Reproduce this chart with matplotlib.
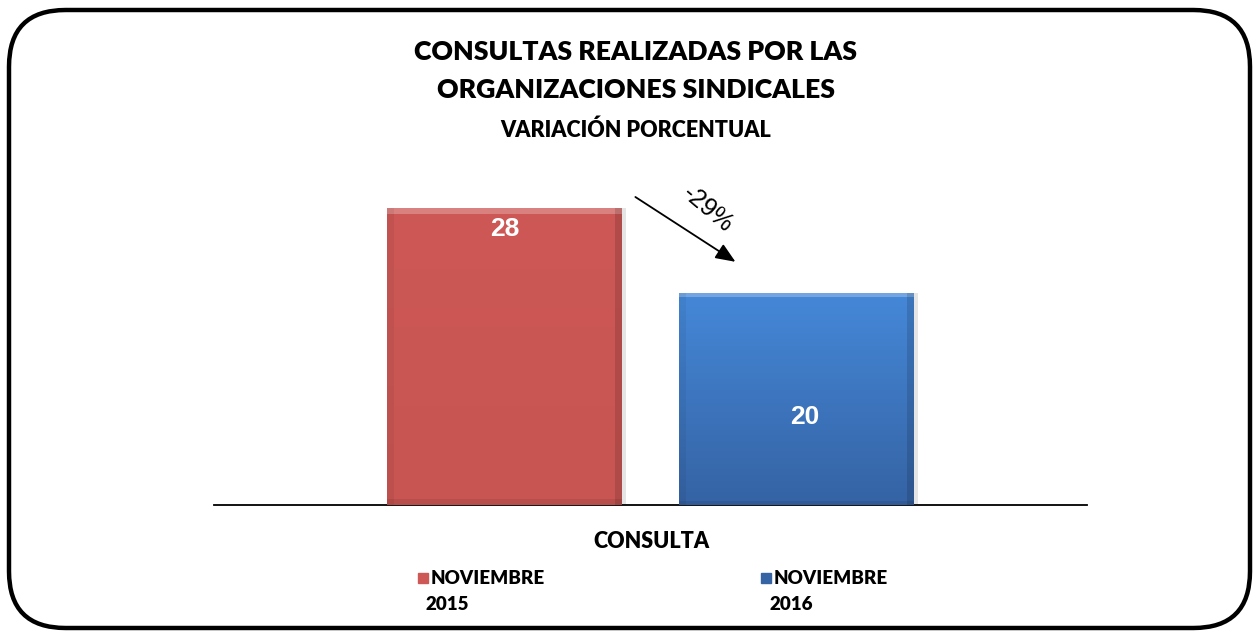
import numpy as np
import matplotlib
matplotlib.use("Agg")
import matplotlib.pyplot as plt
from matplotlib.patches import FancyBboxPatch
from matplotlib.colors import LinearSegmentedColormap

# data
series = ["NOVIEMBRE\n2015", "NOVIEMBRE\n2016"]
values = [28, 20]
category = "CONSULTA"
change_label = "-29%"
colors_top = ["#CD5856", "#4588D8"]
colors_bot = ["#C85552", "#3563A4"]

FONT = ["Lato", "DejaVu Sans"]
WEIGHT = "heavy"

fig = plt.figure(figsize=(12.58, 6.32), dpi=100)
W, H = 1258, 632


def fx(px):
    return px / W


def fy(py):
    return 1 - py / H


# rounded frame (x 9..1250, y 10..628)
frame = FancyBboxPatch((fx(9), fy(628)), fx(1241), 618 / H,
                       boxstyle="round,pad=0,rounding_size=0.045", transform=fig.transFigure,
                       fill=False, lw=3.2, ec="black", mutation_aspect=W / H)
fig.patches.append(frame)

# axes: baseline at y=505, x 214..1087
ax = fig.add_axes([fx(214), fy(505), fx(1087 - 214), (505 - 160) / H])
ymax = 345 / 10.6
xs = [-0.167, 0.167]
width = 0.269
for i, (x, v) in enumerate(zip(xs, values)):
    # soft shadow
    ax.bar(x + 0.005, v, width, bottom=0, color="#999999", alpha=0.25, zorder=1, lw=0)
    b = ax.bar(x, v, width, color=colors_top[i], zorder=2, lw=0)[0]
    cmap = LinearSegmentedColormap.from_list("g", [colors_bot[i], colors_top[i]])
    grad = np.linspace(0, 1, 100).reshape(-1, 1)
    im = ax.imshow(grad, cmap=cmap, aspect="auto", origin="lower",
                   extent=(x - width / 2, x + width / 2, 0, v), zorder=3)
    im.set_clip_path(b)
    # bevel highlights
    ax.bar(x, v * 0.02, width, bottom=v * 0.98, color="white", alpha=0.25, zorder=4, lw=0)
    ax.bar(x - width / 2 + width * 0.015, v, width * 0.03, color="black", alpha=0.05, zorder=4, lw=0)
    ax.bar(x + width / 2 - width * 0.015, v, width * 0.03, color="black", alpha=0.13, zorder=4, lw=0)
    ax.bar(x, v * 0.02, width, bottom=0, color="black", alpha=0.08, zorder=4, lw=0)

ax.set_xlim(-0.5, 0.5)
ax.set_ylim(0, ymax)
ax.text(xs[0], values[0] - 2.0, str(values[0]), color="white", fontsize=19, fontweight="bold",
        ha="center", va="center", family=["Liberation Sans"], zorder=5)
ax.text(xs[1] + 0.01, 8.3, str(values[1]), color="white", fontsize=19, fontweight="bold",
        ha="center", va="center", family=["Liberation Sans"], zorder=5)

for s in ["top", "right", "left"]:
    ax.spines[s].set_visible(False)
ax.spines["bottom"].set_linewidth(1.3)
ax.set_xticks([])
ax.set_yticks([])
ax.patch.set_alpha(0)

# arrow showing change
ax.annotate("", xy=(0.100, 22.8), xytext=(-0.02, 29.2),
            arrowprops=dict(arrowstyle="-|>,head_length=1.2,head_width=0.5", color="black", lw=1.3),
            annotation_clip=False)
ax.text(0.065, 27.9, change_label, rotation=-40, fontsize=18, ha="center", va="center",
        family=["Liberation Sans"])

# titles
fig.text(fx(636), fy(52), "CONSULTAS REALIZADAS POR LAS", ha="center", va="center",
         fontsize=19.2, fontweight=WEIGHT, family=FONT)
fig.text(fx(636), fy(90), "ORGANIZACIONES SINDICALES", ha="center", va="center",
         fontsize=19.2, fontweight=WEIGHT, family=FONT)
fig.text(fx(636), fy(130), "VARIACIÓN PORCENTUAL", ha="center", va="center",
         fontsize=15.5, fontweight=WEIGHT, family=FONT)
fig.text(fx(651), fy(541), category, ha="center", va="center",
         fontsize=15.5, fontweight=WEIGHT, family=FONT)

# legend
leg_x = [418, 761]
for i, name in enumerate(series):
    l1, l2 = name.split("\n")
    fig.patches.append(plt.Rectangle((fx(leg_x[i]), fy(583)), fx(10), 10 / H, transform=fig.transFigure,
                                     color=colors_bot[i] if i else colors_top[i]))
    fig.text(fx(leg_x[i] + 13), fy(578), l1, ha="left", va="center", fontsize=13.5,
             fontweight=WEIGHT, family=FONT)
    fig.text(fx(leg_x[i] + 8), fy(605), l2, ha="left", va="center", fontsize=13.5,
             fontweight=WEIGHT, family=FONT)

fig.savefig("out.png", dpi=100)
